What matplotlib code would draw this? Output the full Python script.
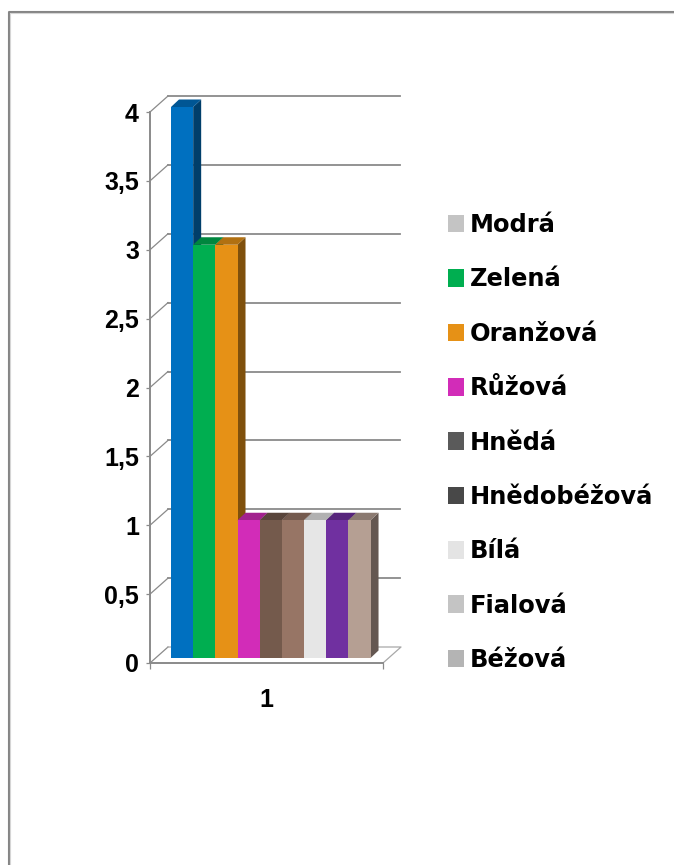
import matplotlib
matplotlib.use('Agg')
import matplotlib.pyplot as plt
from matplotlib.colors import to_rgb
from matplotlib.lines import Line2D
from matplotlib.patches import Patch, Polygon

series_names = ['Modrá', 'Zelená', 'Oranžová', 'Růžová', 'Hnědá',
                'Hnědobéžová', 'Bílá', 'Fialová', 'Béžová']
series_values = [4, 3, 3, 1, 1, 1, 1, 1, 1]
bar_colors = ['#0070C0', '#00AE50', '#E69116', '#D22CB8', '#745A4C',
              '#977565', '#E6E6E6', '#7030A0', '#B59F93']
# the legend keys are grey for most of the series in the original
legend_colors = ['#C4C4C4', '#00AE50', '#E69116', '#D22CB8', '#5A5A5A',
                 '#484848', '#E4E4E4', '#C4C4C4', '#B4B4B4']
y_ticks = [0, 0.5, 1, 1.5, 2, 2.5, 3, 3.5, 4]
y_labels = ['0', '0,5', '1', '1,5', '2', '2,5', '3', '3,5', '4']

W, H = 674, 865
GRID = '#8A8A8A'
PX_X = 1 / 233.0    # one pixel in category units
PX_Y = 4 / 551.0    # one pixel in value units

plt.rcParams['font.family'] = 'DejaVu Sans'
plt.rcParams['font.weight'] = 'bold'

fig = plt.figure(figsize=(W / 100, H / 100), dpi=100)
# axes box is the front of the 3D frame
ax = fig.add_axes([150 / W, 1 - 663 / H, 233 / W, 551 / H])
ax.set_xlim(0.5, 1.5)
ax.set_ylim(0, 4)
ax.patch.set_visible(False)

# back wall and floor
wall_dx, wall_dy = 18 * PX_X, 16 * PX_Y
for v in y_ticks:
    ax.plot([0.5, 0.5 + wall_dx], [v, v + wall_dy], color=GRID, lw=0.9,
            clip_on=False, zorder=1)
    if v > 0:
        ax.plot([0.5 + wall_dx, 1.5 + 17 * PX_X], [v + wall_dy, v + wall_dy],
                color=GRID, lw=1.3, clip_on=False, zorder=1)
ax.plot([0.5 + wall_dx, 1.5 + wall_dx, 1.5], [wall_dy, wall_dy, 0], color='#A8A8A8',
        lw=0.9, clip_on=False, zorder=1)

# bars, left to right so that each one hides the side of the previous one
bar_w = 22.17 * PX_X
start = 0.5 + 21 * PX_X
base = 5 * PX_Y
depth_x, depth_y = 8 * PX_X, 7.5 * PX_Y
for i, (val, col) in enumerate(zip(series_values, bar_colors)):
    x0 = start + i * bar_w
    x1 = x0 + bar_w
    top = base + val
    rgb = to_rgb(col)
    top_col = tuple(c * 0.77 for c in rgb)
    side_col = tuple(c * 0.55 for c in rgb)
    ax.add_patch(Polygon([(x1, base), (x1 + depth_x, base + depth_y),
                          (x1 + depth_x, top + depth_y), (x1, top)],
                         fc=side_col, ec='none', zorder=2 + i, clip_on=False))
    ax.add_patch(Polygon([(x0, top), (x0 + depth_x, top + depth_y),
                          (x1 + depth_x, top + depth_y), (x1, top)],
                         fc=top_col, ec='none', zorder=2 + i, clip_on=False))
    ax.bar(x0, val, width=bar_w, bottom=base, align='edge', color=col, zorder=2 + i,
           clip_on=False)

for side in ['top', 'right']:
    ax.spines[side].set_visible(False)
for side in ['left', 'bottom']:
    ax.spines[side].set_color(GRID)
    ax.spines[side].set_linewidth(1.4)
    ax.spines[side].set_zorder(20)

ax.set_yticks(y_ticks)
ax.set_yticklabels(y_labels, family='Liberation Sans')
ax.tick_params(axis='y', length=3, width=0.9, color=GRID, pad=5, labelsize=18)
ax.set_xticks([1])
ax.set_xticklabels(['1'], family='Liberation Sans')
ax.set_xticks([0.5, 1.5], minor=True)
ax.tick_params(axis='x', which='major', length=0, pad=18, labelsize=18)
ax.tick_params(axis='x', which='minor', length=4, width=0.9, color=GRID)

handles = [Patch(fc=c, ec='none') for c in legend_colors]
ax.legend(handles, series_names, loc='upper left', frameon=False,
          bbox_to_anchor=(448 / W, 1 - 213 / H), bbox_transform=fig.transFigure,
          fontsize=17.4, labelspacing=1.257, handlelength=0.66, handleheight=0.745,
          handletextpad=0.245, borderpad=0, borderaxespad=0)

# picture frame, top and left edge only
fig.add_artist(Line2D([8.5 / W, 8.5 / W, 1], [0, 1 - 11.5 / H, 1 - 11.5 / H],
                      color='#858585', lw=1.5))
fig.add_artist(Line2D([10 / W, 10 / W, 1], [0, 1 - 13 / H, 1 - 13 / H],
                      color='#D5D5D5', lw=0.8))

fig.savefig('out.png', dpi=100)
